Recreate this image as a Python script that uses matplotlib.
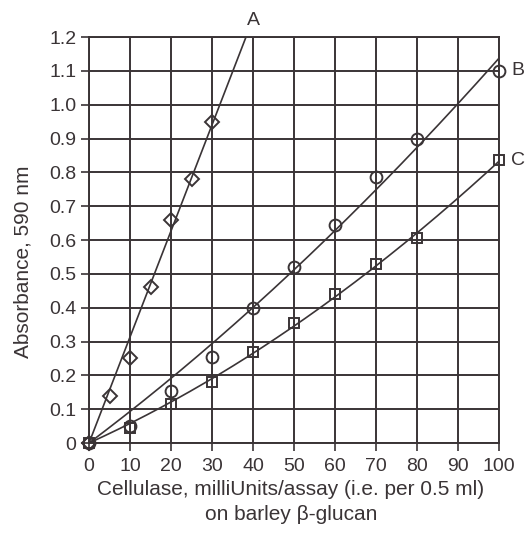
import numpy as np
import matplotlib
matplotlib.use('Agg')
import matplotlib.pyplot as plt

plt.rcParams['font.family'] = ['Liberation Sans', 'DejaVu Sans']

### DATA ###

# curve A (diamonds)
x_a = [0, 5, 10, 15, 20, 25, 30]
y_a = [0, 0.14, 0.25, 0.46, 0.66, 0.78, 0.95]
# curve B (circles)
x_b = [0, 10, 20, 30, 40, 50, 60, 70, 80, 100]
y_b = [0, 0.05, 0.155, 0.255, 0.40, 0.52, 0.645, 0.785, 0.90, 1.10]
# curve C (squares)
x_c = [0, 10, 20, 30, 40, 50, 60, 70, 80, 100]
y_c = [0, 0.045, 0.115, 0.18, 0.27, 0.355, 0.44, 0.53, 0.605, 0.835]

x_ticks = list(range(0, 101, 10))
y_ticks = [0, 0.1, 0.2, 0.3, 0.4, 0.5, 0.6, 0.7, 0.8, 0.9, 1.0, 1.1, 1.2]
y_ticklabels = ['0', '0.1', '0.2', '0.3', '0.4', '0.5', '0.6', '0.7', '0.8', '0.9', '1.0', '1.1', '1.2']

col = '#3a3436'


def fit_origin(x, y, deg):
    # least squares polynomial forced through (0, 0)
    x = np.asarray(x, float)
    A = np.column_stack([x ** k for k in range(1, deg + 1)])
    c, *_ = np.linalg.lstsq(A, np.asarray(y, float), rcond=None)
    return lambda t: sum(ci * t ** (k + 1) for k, ci in enumerate(c))


### PLOTTING ###

fig = plt.figure(figsize=(5.28, 5.34), dpi=100)
ax = fig.add_axes([0.1686, 0.1704, 0.7765, 0.7603])

ax.set_xlim(0, 100)
ax.set_ylim(0, 1.2)
ax.set_xticks(x_ticks)
ax.set_yticks(y_ticks)
ax.set_yticklabels(y_ticklabels)
ax.grid(True, color=col, linewidth=1.4)
ax.set_axisbelow(True)
for s in ax.spines.values():
    s.set_color(col)
    s.set_linewidth(1.4)
ax.tick_params(colors=col, labelcolor=col, labelsize=14, width=1.2, length=6,
               direction='out', pad=3)
ax.tick_params(axis='x', pad=5)

# smooth curves fitted through the points
fa = fit_origin(x_a, y_a, 1)
xa = np.linspace(0, 40, 200)
ya = fa(xa)
keep = ya <= 1.2
ax.plot(xa[keep], ya[keep], color=col, lw=1.2, zorder=3)

xs = np.linspace(0, 100, 200)
fb = fit_origin(x_b, y_b, 2)
ax.plot(xs, fb(xs), color=col, lw=1.2, zorder=3)
fc = fit_origin(x_c, y_c, 2)
ax.plot(xs, fc(xs), color=col, lw=1.2, zorder=3)

mk = dict(linestyle='none', markerfacecolor='none', markeredgecolor=col,
          markeredgewidth=1.4, zorder=4, clip_on=False)
ax.plot(x_a, y_a, marker='D', markersize=7.5, **mk)
ax.plot(x_b, y_b, marker='o', markersize=8.5, **mk)
ax.plot(x_c, y_c, marker='s', markersize=7.5, **mk)

ax.text(40, 1.25, 'A', fontsize=14, color=col, ha='center', va='center')
ax.text(103, 1.10, 'B', fontsize=14, color=col, ha='left', va='center')
ax.text(103, 0.835, 'C', fontsize=14, color=col, ha='left', va='center')

ax.set_ylabel('Absorbance, 590 nm', fontsize=15, color=col, va='center')
ax.yaxis.set_label_coords(-0.161, 0.446)
ax.set_xlabel('Cellulase, milliUnits/assay (i.e. per 0.5 ml)\non barley \u03b2-glucan',
              fontsize=15, color=col, linespacing=1.4, va='top')
ax.xaxis.set_label_coords(0.492, -0.09)

plt.savefig('out.png', dpi=100)
plt.close()
